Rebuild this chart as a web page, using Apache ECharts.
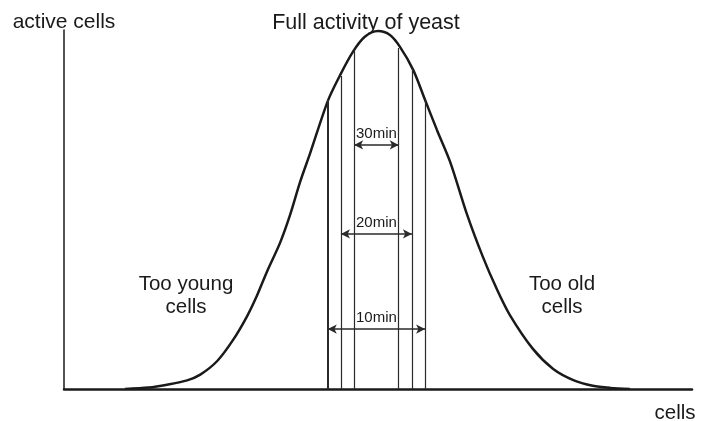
<!DOCTYPE html>
<html>
<head>
<meta charset="utf-8">
<script src="https://cdn.jsdelivr.net/npm/echarts@6/dist/echarts.min.js"></script>
<style>
  html, body { margin: 0; padding: 0; background: #fff; }
  #yeast { width: 707px; height: 421px; }
</style>
</head>
<body>
<div id="yeast"></div>
<script>
// bell curve (x: cells 0-100, y: active cells 0-100)
const cellPos = [9.7, 13.5, 16.4, 19.6, 21.7, 24.4, 26.9, 29.1, 30.7, 32.3, 34.4, 36.0, 37.6, 39.2, 42.0, 43.9, 46.0, 47.9, 50.0, 51.9, 53.5, 55.6, 57.5, 59.4, 61.5, 64.2, 66.7, 68.9, 71.0, 74.7, 77.9, 81.1, 84.2, 87.0, 90.1];
const activity = [0, 0.4, 1.2, 2.4, 4.0, 7.8, 13.6, 20.1, 25.9, 32.6, 40.7, 48.5, 57.7, 65.7, 80.2, 87.2, 93.9, 98.1, 99.7, 98.6, 95.3, 88.9, 80.5, 72.1, 63.2, 48.5, 36.8, 27.9, 20.6, 11.1, 5.6, 2.5, 0.9, 0.3, 0];

// vertical marker lines
const markPos = [42.0, 44.1, 46.2, 53.3, 55.4, 57.5];
const markTop = [80.5, 87.2, 94.4, 95.0, 89.4, 80.5];

// time spans (double arrows)
const spanLabels = ['30min', '20min', '10min'];
const spanFrom = [46.2, 44.1, 42.0];
const spanTo = [53.3, 55.4, 57.5];
const spanLevel = [68.0, 43.2, 16.7];

const font = "'Liberation Sans', Arial, sans-serif";
const ink = '#1a1a1a';

const curve = cellPos.map((x, i) => [x, activity[i]]);

const markers = markPos.map((x, i) => [
  { coord: [x, 0], lineStyle: { width: i === 0 ? 2 : 1.2 } },
  { coord: [x, markTop[i]] },
]);

const spans = spanLabels.map((name, i) => [
  { name: name, coord: [spanFrom[i], spanLevel[i]] },
  { coord: [spanTo[i], spanLevel[i]] },
]);

const chart = echarts.init(document.getElementById('yeast'));
chart.setOption({
  animation: false,
  backgroundColor: '#fff',
  grid: { left: 64, right: 15, top: 30, bottom: 32 },
  xAxis: {
    type: 'value',
    min: 0,
    max: 100,
    axisLine: { show: true, onZero: false, lineStyle: { color: ink, width: 2.5 } },
    axisTick: { show: false },
    axisLabel: { show: false },
    splitLine: { show: false },
  },
  yAxis: {
    type: 'value',
    min: 0,
    max: 100,
    name: 'active cells',
    nameLocation: 'end',
    nameGap: 8,
    nameTextStyle: { fontFamily: font, fontSize: 21, color: ink, verticalAlign: 'middle' },
    axisLine: { show: true, lineStyle: { color: ink, width: 1.5 } },
    axisTick: { show: false },
    axisLabel: { show: false },
    splitLine: { show: false },
  },
  graphic: [
    {
      type: 'text', x: 366, y: 23,
      style: { text: 'Full activity of yeast', font: '21.5px ' + font, fill: ink, align: 'center', verticalAlign: 'middle' },
    },
    {
      type: 'text', x: 186, y: 296,
      style: { text: 'Too young\ncells', font: '20.5px ' + font, fill: ink, align: 'center', verticalAlign: 'middle', lineHeight: 23 },
    },
    {
      type: 'text', x: 562, y: 296,
      style: { text: 'Too old\ncells', font: '20.5px ' + font, fill: ink, align: 'center', verticalAlign: 'middle', lineHeight: 23 },
    },
    {
      type: 'text', x: 675, y: 413,
      style: { text: 'cells', font: '20.5px ' + font, fill: ink, align: 'center', verticalAlign: 'middle' },
    },
  ],
  series: [
    {
      type: 'line',
      data: curve,
      smooth: 0.3,
      showSymbol: false,
      silent: true,
      lineStyle: { color: ink, width: 2.5 },
      markLine: {
        silent: true,
        symbol: 'none',
        lineStyle: { color: '#2a2a2a', type: 'solid', width: 1.2 },
        label: { show: false },
        data: markers,
      },
    },
    {
      type: 'line',
      data: [],
      silent: true,
      markLine: {
        silent: true,
        symbol: ['arrow', 'arrow'],
        symbolSize: [7, 9],
        lineStyle: { color: '#2a2a2a', type: 'solid', width: 1.5 },
        label: {
          show: true,
          position: 'insideMiddleTop',
          distance: 4,
          formatter: '{b}',
          fontFamily: font,
          fontSize: 15,
          color: ink,
        },
        data: spans,
      },
    },
  ],
});
</script>
</body>
</html>
